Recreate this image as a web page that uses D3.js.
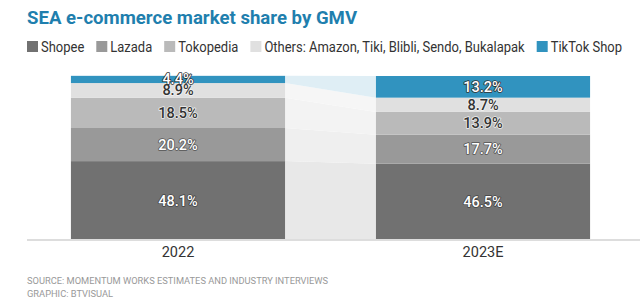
<!DOCTYPE html>
<html><head><meta charset="utf-8">
<script src="https://cdn.jsdelivr.net/npm/d3@7"></script>
<style>body{margin:0;background:#fff;}svg{display:block;font-family:Roboto, "Liberation Sans", sans-serif;}</style>
</head><body>
<svg id="c" width="640" height="306"></svg>
<script>
const categories = ["2022", "2023E"];
const seriesNames = ["Shopee", "Lazada", "Tokopedia", "Others: Amazon, Tiki, Blibli, Sendo, Bukalapak", "TikTok Shop"];
const shopee = [48.1, 46.5];
const lazada = [20.2, 17.7];
const tokopedia = [18.5, 13.9];
const others = [8.9, 8.7];
const tiktok = [4.4, 13.2];
const seriesValues = [shopee, lazada, tokopedia, others, tiktok];

const colors = ["#717171", "#999999", "#bababa", "#e0e0e0", "#3193bf"];
const bandColors = ["#e8e8e8", "#efefef", "#f3f3f3", "#f6f6f6", "#dfeef5"];
const labelFill = ["#fff", "#fff", "#333", "#333", "#fff"];
const labelStroke = ["#444", "#555", "#eee", "#f4f4f4", "#333"];

const svg = d3.select("#c");

const rows = categories.map((c, i) => {
  const o = {cat: c};
  seriesNames.forEach((s, j) => o[s] = seriesValues[j][i]);
  return o;
});
const stack = d3.stack().keys(seriesNames)(rows);

const x = d3.scaleBand().domain(categories).range([27, 634]).paddingInner(0.298).paddingOuter(0.144);
const y = d3.scaleLinear().domain([0, 100]).range([240, 76]);

// title
svg.append("text").attr("x", 27).attr("y", 24).attr("fill", "#1f7fae")
  .attr("font-size", 18.6).attr("font-weight", "bold").text("SEA e-commerce market share by GMV");

// legend (fit between x=27 and x=622)
const leg = svg.append("g");
const sq = 11, pad = 3, gap = 12;
const texts = seriesNames.map((s, j) => leg.append("text").attr("y", 51.5).attr("font-size", 14).attr("fill", "#333").text(s));
const widths = texts.map(t => t.node().getComputedTextLength());
const fixed = seriesNames.length * (sq + pad) + (seriesNames.length - 1) * gap;
const k = Math.min(1, (622 - 27 - fixed) / d3.sum(widths));
let lx = 27;
seriesNames.forEach((s, j) => {
  leg.append("rect").attr("x", lx).attr("y", 41).attr("width", sq).attr("height", sq).attr("fill", colors[j]);
  const w = widths[j] * k;
  texts[j].attr("x", lx + sq + pad).attr("textLength", w).attr("lengthAdjust", "spacingAndGlyphs");
  lx += sq + pad + w + gap;
});

// bands between bars
const b0 = categories[0], b1 = categories[1];
const x0 = x(b0) + x.bandwidth(), x1 = x(b1);
stack.forEach((layer, j) => {
  const a = layer[0], b = layer[1];
  const pts = [[x0, y(a[1])], [x1, y(b[1])], [x1, y(b[0])], [x0, y(a[0])]];
  svg.append("path").attr("d", "M" + pts.join("L") + "Z").attr("fill", bandColors[j]);
});

// bars
stack.forEach((layer, j) => {
  svg.append("g").selectAll("rect").data(layer).join("rect")
    .attr("x", d => x(d.data.cat)).attr("width", x.bandwidth())
    .attr("y", d => y(d[1])).attr("height", d => y(d[0]) - y(d[1]))
    .attr("fill", colors[j]);
});

// axis
const axis = d3.axisBottom(x).tickSize(0).tickPadding(7);
const ag = svg.append("g").attr("transform", "translate(0,240)").call(axis);
ag.select(".domain").attr("d", "M27,0H640").attr("stroke", "#dddddd").attr("stroke-width", 2);
ag.selectAll("text").attr("font-size", 14.5).attr("fill", "#333").attr("font-family", "Roboto, sans-serif");

// labels
stack.forEach((layer, j) => {
  svg.append("g").selectAll("text").data(layer).join("text")
    .attr("x", d => x(d.data.cat) + x.bandwidth() / 2)
    .attr("y", d => (y(d[0]) + y(d[1])) / 2 + 5)
    .attr("text-anchor", "middle").attr("font-size", 14.5).attr("font-weight", 500)
    .attr("fill", labelFill[j]).attr("stroke", labelStroke[j]).attr("stroke-width", 1.6)
    .attr("paint-order", "stroke").attr("stroke-linejoin", "round")
    .text(d => (d[1] - d[0]).toFixed(1) + "%");
});

// source
svg.append("text").attr("x", 27).attr("y", 284).attr("font-size", 9.3).attr("fill", "#999")
  .text("SOURCE: MOMENTUM WORKS ESTIMATES AND INDUSTRY INTERVIEWS");
svg.append("text").attr("x", 27).attr("y", 297).attr("font-size", 9.3).attr("fill", "#999")
  .text("GRAPHIC: BTVISUAL");
</script>
</body></html>
